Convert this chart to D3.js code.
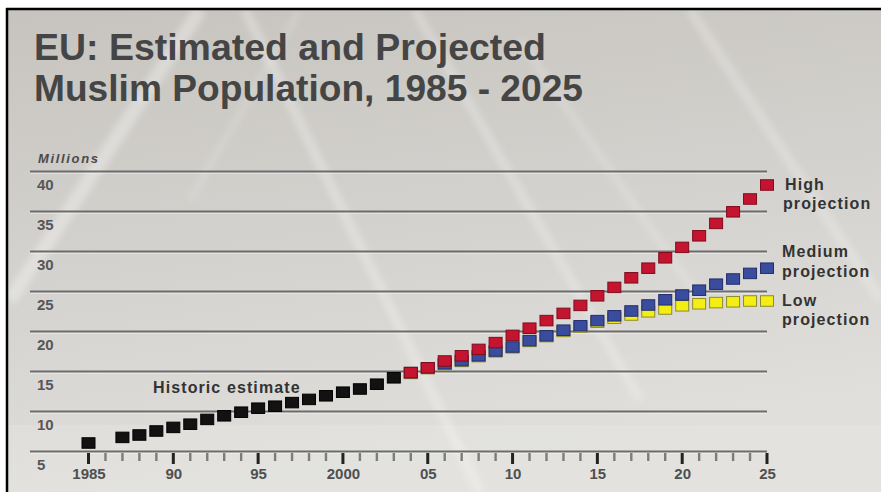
<!DOCTYPE html>
<html><head><meta charset="utf-8">
<script src="https://cdn.jsdelivr.net/npm/d3@7"></script>
<style>html,body{margin:0;padding:0;background:#fff;}svg{display:block;}</style>
</head><body>
<svg id="chart" width="881" height="492"></svg>
<script>
// ---------- data ----------
const historicYears  = [1985,1987,1988,1989,1990,1991,1992,1993,1994,1995,1996,1997,1998,1999,2000,2001,2002,2003];
const historicValues = [6.0,6.7,7.0,7.5,7.95,8.35,8.95,9.4,9.85,10.35,10.6,11.05,11.45,11.9,12.35,12.75,13.35,14.15];
const projYears      = [2004,2005,2006,2007,2008,2009,2010,2011,2012,2013,2014,2015,2016,2017,2018,2019,2020,2021,2022,2023,2024,2025];
const highValues     = [14.8,15.4,16.25,16.9,17.7,18.55,19.45,20.35,21.3,22.2,23.2,24.4,25.45,26.65,27.85,29.15,30.45,31.9,33.45,34.9,36.5,38.25];
const mediumValues   = [14.8,15.4,15.9,16.3,16.9,17.5,18.0,18.8,19.4,20.1,20.65,21.3,21.9,22.5,23.25,23.9,24.5,25.1,25.85,26.5,27.2,27.85];
const lowValues      = [14.7,15.3,15.8,16.2,16.8,17.4,17.9,18.7,19.3,19.95,20.5,21.1,21.6,22.0,22.4,22.75,23.15,23.4,23.55,23.65,23.75,23.75];
const yTickValues    = [5,10,15,20,25,30,35,40];
const xTickYears     = [1985,1986,1987,1988,1989,1990,1991,1992,1993,1994,1995,1996,1997,1998,1999,2000,2001,2002,2003,2004,2005,2006,2007,2008,2009,2010,2011,2012,2013,2014,2015,2016,2017,2018,2019,2020,2021,2022,2023,2024,2025];
const xMajorYears    = [1985,1990,1995,2000,2005,2010,2015,2020,2025];
const xMajorLabels   = ["1985","90","95","2000","05","10","15","20","25"];
const titleLines     = ["EU: Estimated and Projected","Muslim Population, 1985 - 2025"];

// ---------- setup ----------
const svg = d3.select("#chart");
const FONT = "'Liberation Sans', Arial, Helvetica, sans-serif";
const defs = svg.append("defs");
const grad = defs.append("linearGradient").attr("id","bg")
  .attr("x1",0).attr("y1",0).attr("x2",0.25).attr("y2",1);
grad.append("stop").attr("offset","0").attr("stop-color","#c7c4bf");
grad.append("stop").attr("offset","0.45").attr("stop-color","#d2d0cc");
grad.append("stop").attr("offset","1").attr("stop-color","#e0dfdb");
const blur = defs.append("filter").attr("id","soft").attr("x","-20%").attr("y","-20%").attr("width","140%").attr("height","140%");
blur.append("feGaussianBlur").attr("stdDeviation",3);

svg.append("rect").attr("x",8).attr("y",10).attr("width",873).attr("height",482).attr("fill","url(#bg)");

// decorative background streaks (photo backdrop)
const streaks = [
  {x1:200,y1:10,x2:10,y2:300,w:14,o:0.32},
  {x1:245,y1:10,x2:480,y2:492,w:10,o:0.26},
  {x1:415,y1:10,x2:640,y2:400,w:9,o:0.24},
  {x1:520,y1:40,x2:700,y2:300,w:7,o:0.18},
  {x1:690,y1:10,x2:881,y2:300,w:10,o:0.22},
  {x1:300,y1:10,x2:190,y2:200,w:6,o:0.15}
];
const sg = svg.append("g").attr("filter","url(#soft)");
sg.selectAll("line").data(streaks).join("line")
  .attr("x1",d=>d.x1).attr("y1",d=>d.y1).attr("x2",d=>d.x2).attr("y2",d=>d.y2)
  .attr("stroke","#ffffff").attr("stroke-width",d=>d.w).attr("stroke-opacity",d=>d.o);
svg.append("rect").attr("x",8).attr("y",425).attr("width",873).attr("height",67).attr("fill","#ffffff").attr("opacity",0.12);

// frame lines
svg.append("line").attr("x1",6).attr("x2",881).attr("y1",9).attr("y2",9).attr("stroke","#000").attr("stroke-width",2.5);
svg.append("line").attr("x1",7).attr("x2",7).attr("y1",8).attr("y2",492).attr("stroke","#000").attr("stroke-width",2.5);

// title
svg.selectAll("text.title").data(titleLines).join("text").attr("class","title")
  .attr("x",34).attr("y",(d,i)=> i===0 ? 60 : 101)
  .attr("textLength",(d,i)=> i===0 ? 512 : 549).attr("lengthAdjust","spacingAndGlyphs")
  .attr("font-family",FONT).attr("font-size",36).attr("font-weight","bold")
  .attr("fill","#454545").text(d=>d);

// scales
const x = d3.scaleLinear().domain([1985,2025]).range([88.5,767]);
const y = d3.scaleLinear().domain([5,40]).range([451,171]);

// y gridlines via axis
const yAxis = d3.axisRight(y).tickValues(yTickValues).tickSize(737).tickFormat(d3.format("d"));
const gy = svg.append("g").attr("transform","translate(30,0)").call(yAxis);
gy.select(".domain").remove();
gy.selectAll(".tick line").attr("stroke","#6c6c6c").attr("stroke-width",1.8);
gy.selectAll(".tick").append("line").attr("x1",0).attr("x2",737).attr("y1",1.8).attr("y2",1.8)
  .attr("stroke","#ffffff").attr("stroke-opacity",0.45).attr("stroke-width",1);
gy.selectAll(".tick text").attr("x",7).attr("y",18).attr("dy",0).attr("text-anchor","start")
  .attr("font-family",FONT).attr("font-size",15).attr("font-weight","bold").attr("fill","#575757");

svg.append("text").attr("x",38).attr("y",163).attr("textLength",60).attr("lengthAdjust","spacing")
  .attr("font-family",FONT).attr("font-size",13).attr("font-style","italic").attr("font-weight","bold")
  .attr("fill","#4a4a4a").text("Millions");

// x axis (labels from axis; tick marks drawn from the same scale)
const labelOf = new Map(xMajorYears.map((yr,i)=>[yr,xMajorLabels[i]]));
const xAxis = d3.axisBottom(x).tickValues(xMajorYears).tickSize(0).tickFormat(d=>labelOf.get(d)||"");
const gx = svg.append("g").attr("transform","translate(0,452)").call(xAxis);
gx.select(".domain").remove();
gx.selectAll(".tick line").remove();
gx.selectAll(".tick text").attr("y",27).attr("dy",0)
  .attr("font-family",FONT).attr("font-size",15).attr("font-weight","bold").attr("fill","#4f4f4f");

const tickG = svg.append("g").attr("class","year-ticks");
xTickYears.forEach(function(yr){
  const major = labelOf.has(yr);
  tickG.append("line")
    .attr("x1", x(yr)).attr("x2", x(yr))
    .attr("y1", 453).attr("y2", major ? 464 : 461)
    .attr("stroke", major ? "#222222" : "#7c7c7c")
    .attr("stroke-width", major ? 3 : 2.4);
});

// series
const W = 13, H = 10.5;
function drawSeries(years, vals, fill, stroke){
  const data = years.map((yr,i)=>({year:yr,v:vals[i]}));
  svg.append("g").selectAll("rect").data(data).join("rect")
    .attr("x",d=>x(d.year)-W/2).attr("y",d=>y(d.v)-H/2)
    .attr("width",W).attr("height",H)
    .attr("fill",fill).attr("stroke",stroke).attr("stroke-width",1);
}
drawSeries(historicYears, historicValues, "#121212", "#000000");
drawSeries(projYears, lowValues, "#f3ee14", "#8f8a2a");
drawSeries(projYears, mediumValues, "#3a4c9e", "#222d6a");
drawSeries(projYears, highValues, "#c5142f", "#7d0c1d");

// labels
function label(txt, xx, yy){
  svg.append("text").attr("x",xx).attr("y",yy)
    .attr("font-family",FONT).attr("font-size",16).attr("font-weight","bold")
    .attr("letter-spacing",1.1).attr("fill","#333333").text(txt);
}
const lastHigh = highValues[highValues.length-1];
const lastMed  = mediumValues[mediumValues.length-1];
const lastLow  = lowValues[lowValues.length-1];
label("High", 785, y(lastHigh)+5);
label("projection", 783, y(lastHigh)+24);
label("Medium", 782, y(lastMed)-11);
label("projection", 782, y(lastMed)+9);
label("Low", 782, y(lastLow)+5);
label("projection", 782, y(lastLow)+24);
label("Historic estimate", 153, 393);
</script>
</body></html>
